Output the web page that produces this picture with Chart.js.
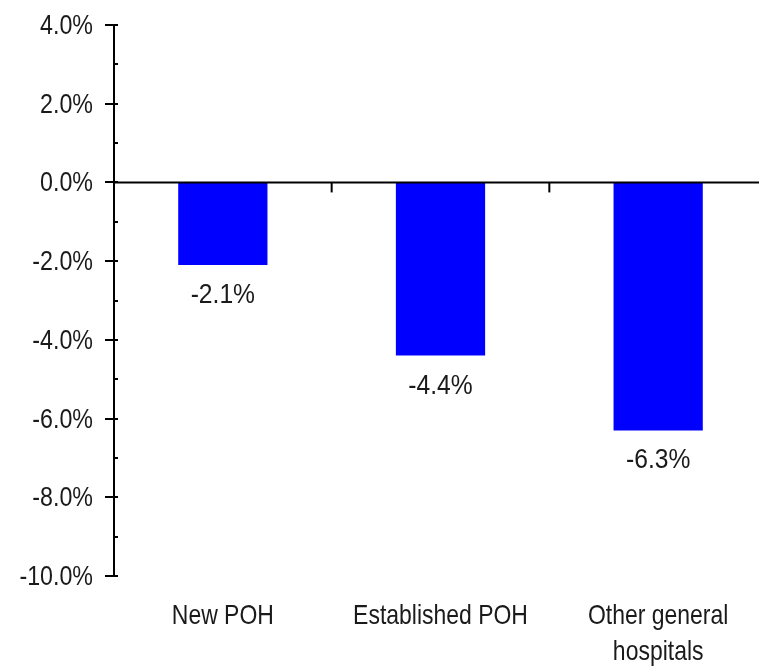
<!DOCTYPE html>
<html>
<head>
<meta charset="utf-8">
<script src="https://cdn.jsdelivr.net/npm/chart.js@4"></script>
<style>
  html, body { margin: 0; padding: 0; background: #fff; overflow: hidden; }
  #wrap { width: 780px; height: 669px; }
</style>
</head>
<body>
<div id="wrap"><canvas id="chart"></canvas></div>
<script>
const categories = ['New POH', 'Established POH', ['Other general', 'hospitals']];
const changeValues = [-2.1, -4.4, -6.3];
const yMin = -10, yMax = 4, yStep = 2;

const FONT = "'Liberation Sans', Arial, sans-serif";
const TEXT = '#1a1a1a';

// the original uses a narrow face, so squeeze the text horizontally
function narrowText(ctx, str, x, y, align, size, squeeze) {
    ctx.save();
    ctx.translate(x, y);
    ctx.scale(squeeze, 1);
    ctx.font = size + 'px ' + FONT;
    ctx.fillStyle = TEXT;
    ctx.textAlign = align;
    ctx.textBaseline = 'alphabetic';
    ctx.fillText(str, 0, 0);
    ctx.restore();
}

// axis line, tick marks and all text
const axisPlugin = {
    id: 'axisPlugin',
    afterDatasetsDraw(chart) {
        const ctx = chart.ctx;
        const x = chart.scales.x, y = chart.scales.y;
        const left = chart.chartArea.left, right = chart.chartArea.right;
        const bottom = chart.chartArea.bottom;
        const zero = y.getPixelForValue(0);
        ctx.save();
        ctx.strokeStyle = '#000';
        ctx.lineWidth = 2;
        ctx.beginPath();
        ctx.moveTo(left, zero);
        ctx.lineTo(right, zero);
        ctx.stroke();
        // category separator ticks
        for (let i = 0; i < categories.length; i++) {
            const px = i < categories.length - 1
                ? (x.getPixelForValue(i) + x.getPixelForValue(i + 1)) / 2
                : right;
            ctx.beginPath();
            ctx.moveTo(px, zero);
            ctx.lineTo(px, zero + 10);
            ctx.stroke();
        }
        // y ticks, major every 2 (crossing the axis), minor on the inside
        for (let v = yMin; v <= yMax; v += 1) {
            const py = Math.round(y.getPixelForValue(v));
            const major = v % yStep === 0;
            ctx.beginPath();
            ctx.moveTo(major ? left - 9 : left, py);
            ctx.lineTo(left + 4, py);
            ctx.stroke();
        }
        ctx.restore();

        // y tick labels
        y.ticks.forEach(t => {
            narrowText(ctx, t.value.toFixed(1) + '%', left - 21, y.getPixelForValue(t.value) + 9, 'right', 27, 0.86);
        });
        // category labels
        categories.forEach((c, i) => {
            const lines = Array.isArray(c) ? c : [c];
            lines.forEach((ln, j) => {
                narrowText(ctx, ln, x.getPixelForValue(i), bottom + 48 + j * 36, 'center', 28, 0.82);
            });
        });
        // value labels under bars
        chart.getDatasetMeta(0).data.forEach((bar, i) => {
            narrowText(ctx, changeValues[i].toFixed(1) + '%', bar.x, bar.y + 38, 'center', 28, 0.88);
        });
    }
};

new Chart(document.getElementById('chart'), {
    type: 'bar',
    data: {
        labels: categories,
        datasets: [{
            data: changeValues,
            backgroundColor: '#0000ff',
            borderWidth: 0,
            categoryPercentage: 1,
            barPercentage: 0.41
        }]
    },
    options: {
        responsive: true,
        maintainAspectRatio: false,
        animation: false,
        layout: { padding: { top: 25, right: 13, left: 0, bottom: 0 } },
        plugins: {
            legend: { display: false },
            tooltip: { enabled: false }
        },
        scales: {
            x: {
                grid: { display: false },
                border: { display: false },
                ticks: { display: false },
                afterFit(scale) { scale.height = 93; }
            },
            y: {
                min: yMin,
                max: yMax,
                grid: { display: false, drawTicks: false },
                border: { display: true, color: '#000', width: 2 },
                ticks: { display: false, stepSize: yStep },
                afterFit(scale) { scale.width = 114; }
            }
        }
    },
    plugins: [axisPlugin]
});
</script>
</body>
</html>
